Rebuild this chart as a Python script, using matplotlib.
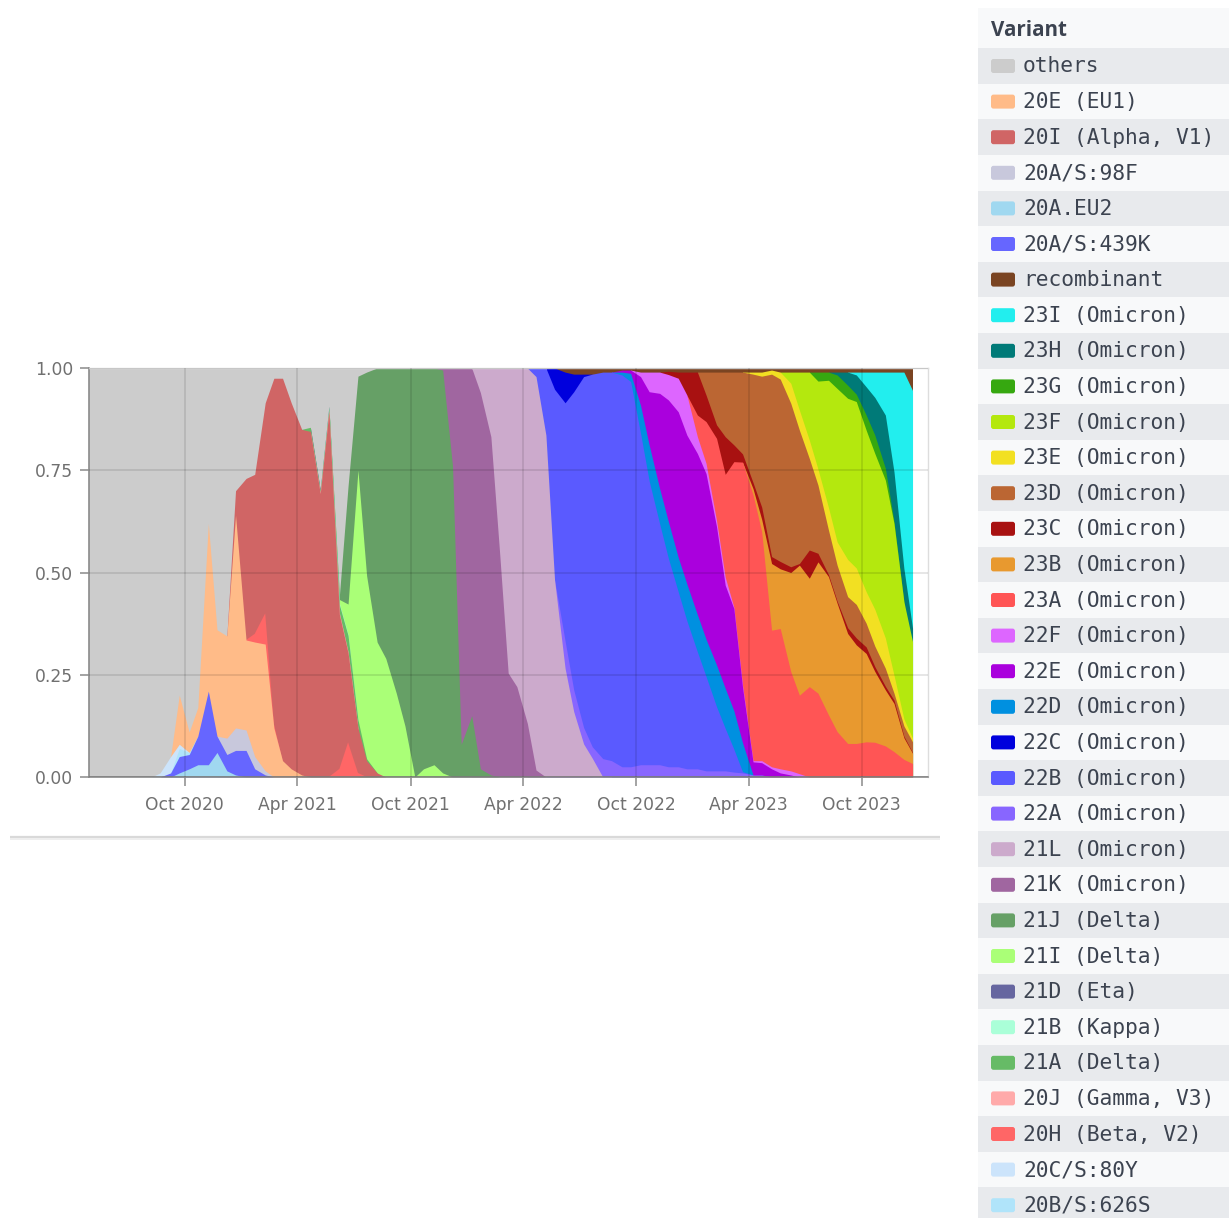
import numpy as np
import pandas as pd
import matplotlib
matplotlib.use("Agg")
import matplotlib.pyplot as plt
import matplotlib.dates as mdates
from matplotlib.patches import FancyBboxPatch, Rectangle

# ---------------- data ----------------
# sampling dates: 8th and 22nd of every month
dates = ["2020-04-22"] + [f"{y}-{m:02d}-{d:02d}" for y in range(2020, 2024)
                          for m in range(1, 13) for d in (8, 22) if (y, m) >= (2020, 5)]

# each series: (index of first listed date, shares)
v_20A_EU2 = (10, [0.01, 0.02, 0.03, 0.03, 0.06, 0.015, 0.005])
v_20A_439K = (9, [0.01, 0.04, 0.035, 0.07, 0.18, 0.04, 0.04, 0.06, 0.065, 0.02, 0.005])
v_20A_98F = (15, [0.04, 0.055, 0.05, 0.03, 0.01])
v_20B_626S = (10, [0.02, 0.005])
v_20C_80Y = (8, [0.01, 0.04, 0.01])
v_20E = (10, [0.12, 0.05, 0.07, 0.41, 0.26, 0.25, 0.52, 0.22, 0.28, 0.31, 0.12, 0.04, 0.02, 0.005])
v_20H = (18, [0.02, 0.075, 0.01, 0, 0, 0, 0, 0, 0, 0.02, 0.085, 0.01])
v_20I = (16, [0.06, 0.395, 0.39, 0.515, 0.845, 0.935, 0.895, 0.845, 0.845, 0.70, 0.905, 0.38,
              0.22, 0.11, 0.04, 0.01])
v_20J = (25, [0.003, 0.004, 0.004, 0.003])
v_21A = (24, [0.01, 0.005, 0.005, 0.02, 0.04, 0.02, 0.005])
v_21B = (26, [0.002, 0.003, 0.002])
v_21D = (25, [0.002, 0.002])
v_21I = (27, [0.01, 0.075, 0.61, 0.45, 0.32, 0.29, 0.205, 0.125, 0.0, 0.02, 0.03, 0.01])
v_21J = (27, [0.01, 0.29, 0.23, 0.50, 0.67, 0.71, 0.795, 0.875, 1.0, 0.98, 0.97, 0.985, 0.76,
              0.08, 0.15, 0.02, 0.005])
v_21K = (38, [0.005, 0.24, 0.92, 0.85, 0.92, 0.827, 0.551, 0.254, 0.221, 0.131, 0.017])
v_21L = (42, [0.06, 0.168, 0.449, 0.746, 0.779, 0.869, 0.962, 0.836, 0.482, 0.266, 0.16,
              0.081, 0.046])
v_22A = (51, [0.067, 0.053, 0.04, 0.028, 0.045, 0.04, 0.025, 0.025, 0.03, 0.03, 0.03, 0.025,
              0.025, 0.02, 0.02, 0.015, 0.015, 0.015, 0.012, 0.01, 0.005, 0.005])
v_22B = (48, [0.021, 0.164, 0.466, 0.582, 0.729, 0.858, 0.911, 0.945, 0.95, 0.958, 0.942,
              0.811, 0.694, 0.589, 0.51, 0.428, 0.362, 0.286, 0.231, 0.157, 0.104, 0.056, 0.003])
v_22C = (50, [0.052, 0.075, 0.043, 0.006])
v_22D = (57, [0.007, 0.02, 0.068, 0.088, 0.086, 0.09, 0.084, 0.09, 0.091, 0.091, 0.102,
              0.098, 0.094, 0.071])
v_22E = (57, [0.005, 0.008, 0.07, 0.13, 0.233, 0.297, 0.356, 0.364, 0.394, 0.405, 0.338,
              0.252, 0.25, 0.136, 0.032, 0.03, 0.02, 0.01, 0.005])
v_22F = (59, [0.011, 0.048, 0.052, 0.062, 0.082, 0.098, 0.041, 0.025, 0.015, 0.02, 0.003,
              0.005, 0.003, 0.005, 0.005, 0.01, 0.01, 0.008])
v_23A = (65, [0.053, 0.102, 0.201, 0.251, 0.356, 0.545, 0.65, 0.56, 0.334, 0.343, 0.243,
              0.192, 0.221, 0.205, 0.152, 0.111, 0.082, 0.082, 0.086, 0.085, 0.076, 0.062,
              0.043, 0.033])
v_23B = (71, [0.015, 0.03, 0.163, 0.146, 0.242, 0.318, 0.265, 0.321, 0.338, 0.314, 0.269,
              0.241, 0.216, 0.173, 0.137, 0.118, 0.053, 0.025])
v_23C = (62, [0.008, 0.015, 0.056, 0.105, 0.065, 0.033, 0.092, 0.041, 0.02, 0.015, 0.03,
              0.017, 0.018, 0.014, 0.004, 0.069, 0.021, 0.005, 0.005, 0.014, 0.017, 0.016,
              0.012, 0.009, 0.008, 0.004, 0.002])
v_23D = (66, [0.056, 0.129, 0.158, 0.178, 0.20, 0.265, 0.32, 0.446, 0.446, 0.40, 0.326,
              0.224, 0.167, 0.109, 0.088, 0.076, 0.082, 0.058, 0.05, 0.044, 0.017, 0.025, 0.026])
v_23E = (71, [0.005, 0.01, 0.01, 0.017, 0.049, 0.049, 0.045, 0.039, 0.055, 0.057, 0.091,
              0.089, 0.077, 0.09, 0.074, 0.044, 0.017, 0.009])
v_23F = (75, [0.027, 0.093, 0.166, 0.215, 0.311, 0.375, 0.394, 0.407, 0.395, 0.381, 0.386,
              0.371, 0.287, 0.236])
v_23G = (78, [0.022, 0.02, 0.033, 0.032, 0.018, 0.037, 0.045, 0.029, 0.005])
v_23H = (80, [0.007, 0.032, 0.047, 0.069, 0.092, 0.13, 0.121, 0.081, 0.033])
v_23I = (82, [0.007, 0.036, 0.062, 0.105, 0.244, 0.48, 0.581])
v_recombinant = (51, [0.01, 0.015, 0.015, 0.015, 0.01, 0.01, 0.005, 0.005, 0.01, 0.01, 0.01,
                      0.008, 0.01, 0.01, 0.01, 0.01, 0.01, 0.01, 0.01, 0.01, 0.01, 0.01, 0.005,
                      0.01, 0.01, 0.01, 0.01, 0.01, 0.01, 0.01, 0.01, 0.01, 0.01, 0.01, 0.01,
                      0.01, 0.01, 0.055])
v_others = (0, [1, 1, 1, 1, 1, 1, 1, 1, 0.99, 0.95, 0.80, 0.89, 0.83, 0.38, 0.64, 0.655, 0.30,
                0.27, 0.26, 0.085, 0.025, 0.025, 0.085, 0.15, 0.145, 0.30, 0.095, 0.56, 0.29,
                0.02, 0.01])

# legend order (as listed in the reference) with colours
legend_labels = ["others", "20E (EU1)", "20I (Alpha, V1)", "20A/S:98F", "20A.EU2", "20A/S:439K",
                 "recombinant", "23I (Omicron)", "23H (Omicron)", "23G (Omicron)",
                 "23F (Omicron)", "23E (Omicron)", "23D (Omicron)", "23C (Omicron)",
                 "23B (Omicron)", "23A (Omicron)", "22F (Omicron)", "22E (Omicron)",
                 "22D (Omicron)", "22C (Omicron)", "22B (Omicron)", "22A (Omicron)",
                 "21L (Omicron)", "21K (Omicron)", "21J (Delta)", "21I (Delta)", "21D (Eta)",
                 "21B (Kappa)", "21A (Delta)", "20J (Gamma, V3)", "20H (Beta, V2)",
                 "20C/S:80Y", "20B/S:626S"]
legend_colors = ["#cccccc", "#ffbb88", "#d06565", "#c8c8dc", "#a0d8f0", "#6666ff", "#7a4422",
                 "#22eeee", "#007a78", "#36a810", "#b4e80e", "#f2e022", "#bb6633", "#a81111",
                 "#e8992f", "#ff5555", "#dd66ff", "#aa00dd", "#0090e0", "#0000dd", "#5a5aff",
                 "#8866ff", "#ccaacc", "#a066a0", "#66a066", "#aaff77", "#6666a0", "#aaffd8",
                 "#66bb66", "#ffaaaa", "#ff6666", "#cce4fb", "#b0e4fa"]

# stacking order, bottom to top
stack = [("20A.EU2", v_20A_EU2), ("20A/S:439K", v_20A_439K), ("20A/S:98F", v_20A_98F),
         ("20B/S:626S", v_20B_626S), ("20C/S:80Y", v_20C_80Y), ("20E (EU1)", v_20E),
         ("20H (Beta, V2)", v_20H), ("20I (Alpha, V1)", v_20I), ("20J (Gamma, V3)", v_20J),
         ("21A (Delta)", v_21A), ("21B (Kappa)", v_21B), ("21D (Eta)", v_21D),
         ("21I (Delta)", v_21I), ("21J (Delta)", v_21J), ("21K (Omicron)", v_21K),
         ("21L (Omicron)", v_21L), ("22A (Omicron)", v_22A), ("22B (Omicron)", v_22B),
         ("22C (Omicron)", v_22C), ("22D (Omicron)", v_22D), ("22E (Omicron)", v_22E),
         ("22F (Omicron)", v_22F), ("23A (Omicron)", v_23A), ("23B (Omicron)", v_23B),
         ("23C (Omicron)", v_23C), ("23D (Omicron)", v_23D), ("23E (Omicron)", v_23E),
         ("23F (Omicron)", v_23F), ("23G (Omicron)", v_23G), ("23H (Omicron)", v_23H),
         ("23I (Omicron)", v_23I), ("recombinant", v_recombinant), ("others", v_others)]

xtick_dates = ["2020-10-01", "2021-04-01", "2021-10-01", "2022-04-01", "2022-10-01",
               "2023-04-01", "2023-10-01"]
ytick_vals = [0.0, 0.25, 0.5, 0.75, 1.0]

# ---------------- build arrays ----------------
N = len(dates)
x = mdates.date2num(pd.to_datetime(dates))
color_of = dict(zip(legend_labels, legend_colors))


def expand(spec):
    start, vals = spec
    arr = np.zeros(N)
    arr[start:start + len(vals)] = vals
    return arr


M = np.vstack([expand(s) for _, s in stack])
M = M / M.sum(axis=0, keepdims=True)
C = np.cumsum(M, axis=0)

# ---------------- figure ----------------
W, H = 1229, 1218
fig = plt.figure(figsize=(W / 100, H / 100), dpi=100)

lax = fig.add_axes([0, 0, 1, 1], zorder=0)
lax.set_xlim(0, W)
lax.set_ylim(H, 0)
lax.axis("off")

ax = fig.add_axes([89 / W, (H - 777) / H, (928 - 89) / W, (777 - 368) / H], zorder=1)
ax.set_facecolor("white")

# draw layers top -> bottom, each from 0 to its cumulative top
for k in range(len(stack) - 1, -1, -1):
    name = stack[k][0]
    nz = M[k] > 0
    mask = nz.copy()
    mask[1:] |= nz[:-1]
    mask[:-1] |= nz[1:]
    if not mask.any():
        continue
    ax.fill_between(x, 0, C[k], where=mask, color=color_of[name], lw=0, zorder=1)

ax.set_xlim(mdates.date2num(pd.Timestamp("2020-04-29")), mdates.date2num(pd.Timestamp("2024-01-16")))
ax.set_ylim(0, 1)
xt = mdates.date2num(pd.to_datetime(xtick_dates))
ax.set_xticks(xt)
ax.set_xticklabels([pd.Timestamp(d).strftime("%b %Y") for d in xtick_dates])
ax.set_yticks(ytick_vals)
ax.set_yticklabels([f"{v:.2f}" for v in ytick_vals])

ax.set_axisbelow(False)
ax.grid(True, color="black", alpha=0.13, linewidth=1.1)
for side in ("left", "bottom"):
    ax.spines[side].set_color("#8a8a8a")
    ax.spines[side].set_linewidth(1.2)
for side in ("top", "right"):
    ax.spines[side].set_color("#dddddd")
    ax.spines[side].set_linewidth(1.0)
ax.tick_params(axis="both", length=6.5, width=1.1, color="#8a8a8a", labelcolor="#707070",
               labelsize=12.3)
ax.tick_params(axis="x", pad=7.5)
ax.tick_params(axis="y", pad=5)

# card shadow line under the chart
lax.plot([10, 940], [836.5, 836.5], color="#d9d9d9", lw=1.6, solid_capstyle="butt")
lax.plot([10, 940], [838.5, 838.5], color="#eeeeee", lw=1.4, solid_capstyle="butt")

# ---------------- legend table ----------------
row_h = 35.6
top0 = 48.2
lax.add_patch(Rectangle((978, 8), 260, top0 - 8, facecolor="#f8f9fa", edgecolor="none"))
lax.text(991, 30, "Variant", fontfamily="Open Sans", fontweight="bold", fontsize=14.8,
         color="#3c4350", va="center", ha="left")
for i, (lab, col) in enumerate(zip(legend_labels, legend_colors)):
    y0 = top0 + i * row_h
    bg = "#e8eaed" if i % 2 == 0 else "#f8f9fa"
    lax.add_patch(Rectangle((978, y0), 260, row_h, facecolor=bg, edgecolor="none"))
    cy = y0 + row_h / 2
    lax.add_patch(FancyBboxPatch((991, cy - 7), 24, 14,
                                 boxstyle="round,pad=0,rounding_size=2.5",
                                 facecolor=col, edgecolor="none"))
    lax.text(1023, cy + 0.5, lab, fontfamily="DejaVu Sans Mono", fontsize=15.3,
             color="#3c4350", va="center", ha="left")

fig.savefig("out.png", dpi=100)
